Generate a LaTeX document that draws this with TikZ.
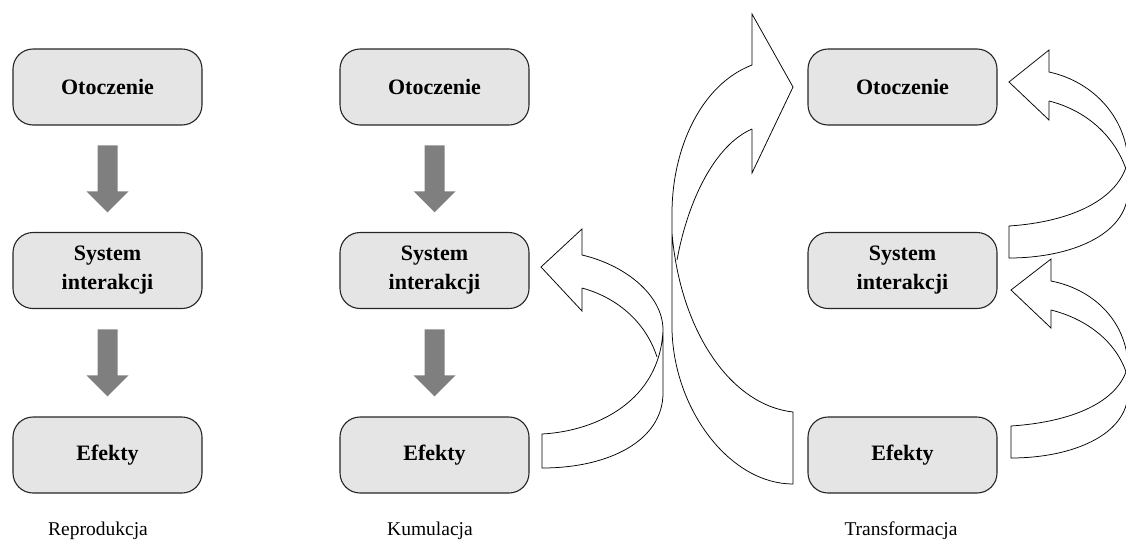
\documentclass[tikz,border=0pt]{standalone}
\usepackage{fontspec}
\setmainfont{Liberation Serif}
\usetikzlibrary{calc}
\definecolor{boxgray}{HTML}{E5E5E5}
\definecolor{arrowgray}{HTML}{7F7F7F}
\begin{document}
\begin{tikzpicture}[x=1pt,y=-1pt,
  box/.style={draw=black!85, line width=1.1pt, fill=boxgray, rounded corners=20pt,
    minimum width=189pt, minimum height=76pt, align=center, inner sep=0pt,
    font=\bfseries\fontsize{22}{29}\selectfont},
  lbl/.style={font=\fontsize{19.5}{23}\selectfont, anchor=base, inner sep=0pt},
  garrow/.style={fill=arrowgray},
  carrow/.style={draw=black, line width=0.75pt, line join=miter}]
\useasboundingbox (0,0) rectangle (1126,544);
\clip (0,0) rectangle (1126,544);

% boxes
\foreach \c/\x in {1/107.5, 2/434.5, 3/902.5}{
  \node[box] (o\c) at (\x,87) {Otoczenie};
  \node[box] (s\c) at (\x,270.5) {System\\interakcji};
  \node[box] (e\c) at (\x,455) {Efekty};
}

% labels
\node[lbl] (l1) at (98,535) {Reprodukcja};
\node[lbl] (l2) at (430,535) {Kumulacja};
\node[lbl] (l3) at (901,535) {Transformacja};

% grey block arrows
\foreach \c in {1,2}{
  \path ($(o\c.south)!0.5!(s\c.north)$) coordinate (ma\c);
  \path ($(s\c.south)!0.5!(e\c.north)$) coordinate (mb\c);
  \fill[garrow] (ma\c) ++(-10,-33.5) -- ++(20,0) -- ++(0,46) -- ++(11,0) -- ++(-21,21) -- ++(-21,-21) -- ++(11,0) -- cycle;
  \fill[garrow] (mb\c) ++(-10,-33.5) -- ++(20,0) -- ++(0,46) -- ++(11,0) -- ++(-21,21) -- ++(-21,-21) -- ++(11,0) -- cycle;
}

% Kumulacja: Efekty -> System
\draw[carrow] (582,288) -- (582,311) -- (541,267) -- (582,229) -- (582,255)
  .. controls (625,265) and (663,295) .. (663,330) -- (663,393)
  .. controls (663,440) and (610,468) .. (542,468) -- (542,434)
  .. controls (598,431) and (660,400) .. (663,330);
\draw[carrow] (582,288) .. controls (615,297) and (645,320) .. (657,357);

% Transformacja: big arrow Efekty -> Otoczenie
\draw[carrow] (752,129) -- (752,173) -- (793,87) -- (752,14) -- (752,65)
  .. controls (700,85) and (672,150) .. (672,213) -- (672,330)
  .. controls (674,410) and (730,484) .. (793,484) -- (793,412)
  .. controls (730,405) and (680,330) .. (672,233);
\draw[carrow] (752,129) .. controls (715,145) and (688,200) .. (677,260);

% right arrow: System -> Otoczenie
\draw[carrow] (1049,101) -- (1049,120) -- (1009,82) -- (1049,50) -- (1049,72)
  .. controls (1095,82) and (1128,120) .. (1128,165) -- (1128,190)
  .. controls (1128,235) and (1070,258) .. (1009,258) -- (1009,226)
  .. controls (1070,222) and (1120,200) .. (1128,160);
\draw[carrow] (1049,101) .. controls (1085,110) and (1115,135) .. (1127,172);

% right arrow: Efekty -> System
\draw[carrow] (1051,310) -- (1051,328) -- (1011,290) -- (1051,259) -- (1051,281)
  .. controls (1097,290) and (1128,325) .. (1128,368) -- (1128,392)
  .. controls (1128,435) and (1072,458) .. (1011,458) -- (1011,426)
  .. controls (1072,422) and (1120,402) .. (1128,365);
\draw[carrow] (1051,310) .. controls (1087,319) and (1117,342) .. (1127,375);
\end{tikzpicture}
\end{document}
